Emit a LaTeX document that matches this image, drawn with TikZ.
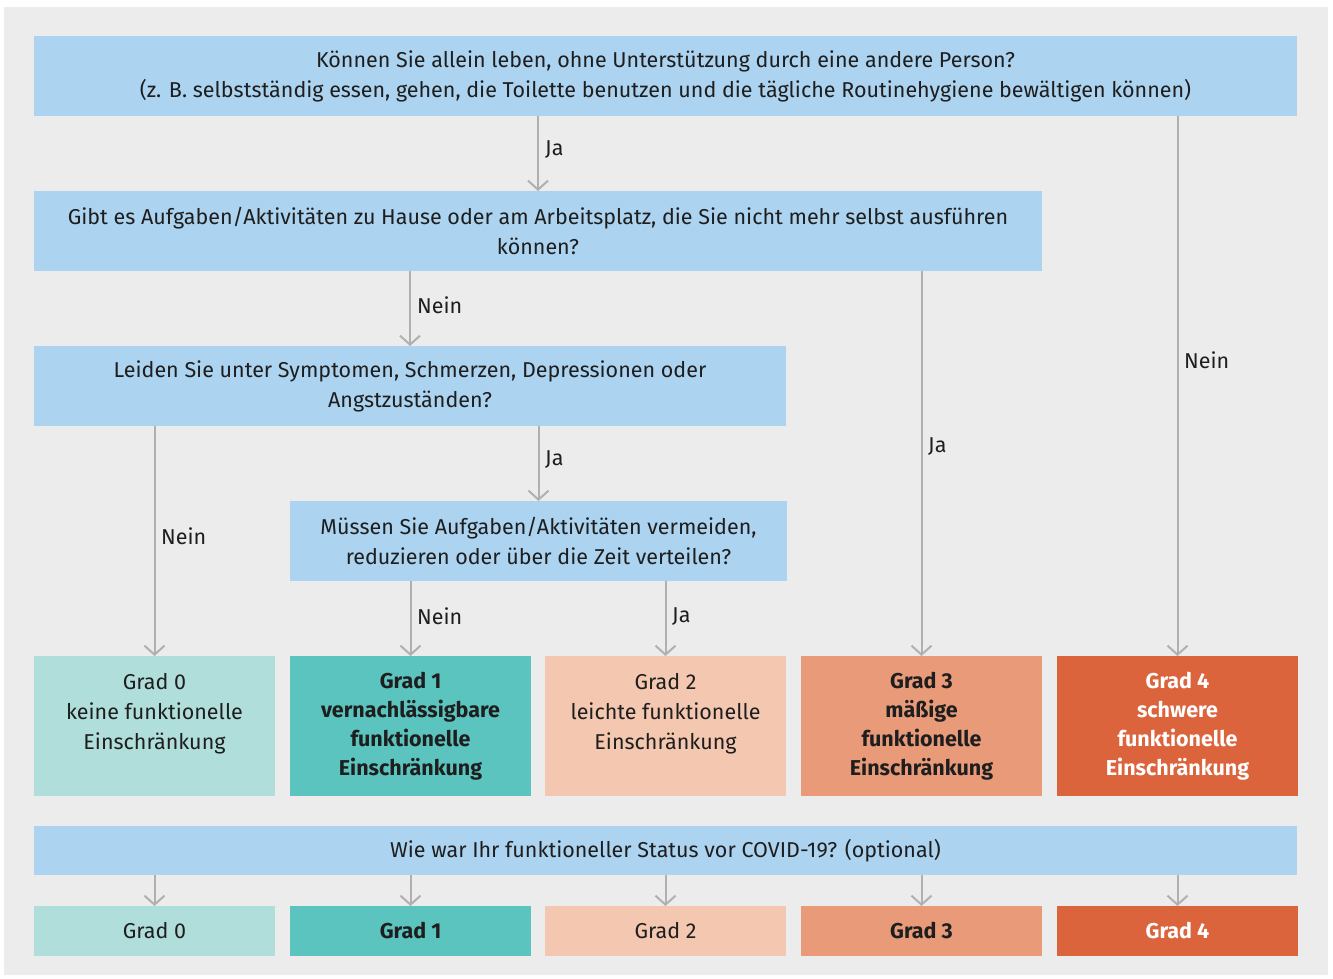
\documentclass[tikz,border=0pt]{standalone}
\usepackage{fontspec}
\setmainfont{Fira Sans}
\usetikzlibrary{arrows.meta,calc}
\definecolor{bgc}{HTML}{EBECEB}
\definecolor{qblue}{HTML}{ACD3EF}
\definecolor{gz}{HTML}{B0DEDB}
\definecolor{go}{HTML}{5BC4BF}
\definecolor{gt}{HTML}{F3C7B0}
\definecolor{gh}{HTML}{E89A79}
\definecolor{gf}{HTML}{DC643C}
\definecolor{txt}{HTML}{1E1E1E}
\definecolor{arrc}{HTML}{B0B0B0}
\tikzset{
  base/.style={inner sep=0pt, outer sep=0pt, anchor=north west, align=center, text=txt,
    font=\fontsize{21.5}{30}\selectfont},
  qbox/.style={base, fill=qblue, minimum height=80pt},
  gbox/.style={base, minimum width=241pt, minimum height=140pt},
  boldg/.style={font=\fontsize{21.5}{29}\selectfont\bfseries},
  sbox/.style={base, minimum width=241pt, minimum height=50pt},
  arr/.style={draw=arrc, line width=2pt, -{Straight Barb[length=9pt,width=20pt,line width=2pt]}},
  lbl/.style={anchor=west, inner sep=0pt, text=txt, font=\fontsize{21.5}{30}\selectfont},
}
\begin{document}
\begin{tikzpicture}[x=1pt,y=-1pt]
\useasboundingbox (0,0) rectangle (1333,979);
\fill[bgc] (4,7) rectangle (1328,975);
% questions
\node[qbox, minimum width=1263pt] (q1) at (34,36) {Können Sie allein leben, ohne Unterstützung durch eine andere Person?\\(z. B. selbstständig essen, gehen, die Toilette benutzen und die tägliche Routinehygiene bewältigen können)};
\node[qbox, minimum width=1008pt] (q2) at (34,191) {Gibt es Aufgaben/Aktivitäten zu Hause oder am Arbeitsplatz, die Sie nicht mehr selbst ausführen\\können?};
\node[qbox, minimum width=752pt] (q3) at (34,346) {Leiden Sie unter Symptomen, Schmerzen, Depressionen oder\\Angstzuständen?};
\node[qbox, minimum width=497pt] (q4) at (290,501) {Müssen Sie Aufgaben/Aktivitäten vermeiden,\\reduzieren oder über die Zeit verteilen?};
% grades
\node[gbox, fill=gz] (g0) at (34,656) {Grad 0\\keine funktionelle\\Einschränkung\\\phantom{X}};
\node[gbox, fill=go, boldg] (g1) at (290,656) {Grad 1\\vernachlässigbare\\funktionelle\\Einschränkung};
\node[gbox, fill=gt] (g2) at (545,656) {Grad 2\\leichte funktionelle\\Einschränkung\\\phantom{X}};
\node[gbox, fill=gh, boldg] (g3) at (801,656) {Grad 3\\mäßige\\funktionelle\\Einschränkung};
\node[gbox, fill=gf, text=white, boldg] (g4) at (1057,656) {Grad 4\\schwere\\funktionelle\\Einschränkung};
% covid
\node[qbox, minimum width=1263pt, minimum height=49pt] (c) at (34,826) {Wie war Ihr funktioneller Status vor COVID-19? (optional)};
\node[sbox, fill=gz] (s0) at (34,906) {Grad 0};
\node[sbox, fill=go, boldg] (s1) at (290,906) {Grad 1};
\node[sbox, fill=gt] (s2) at (545,906) {Grad 2};
\node[sbox, fill=gh, boldg] (s3) at (801,906) {Grad 3};
\node[sbox, fill=gf, text=white, boldg] (s4) at (1057,906) {Grad 4};
% arrows
\draw[arr] (q1.south -| q2.north) -- (q2.north);
\draw[arr] (q1.south -| g4.north) -- (g4.north);
\draw[arr] (q2.south -| q3.north) -- (q3.north);
\draw[arr] (q2.south -| g3.north) -- (g3.north);
\draw[arr] (q3.south -| g0.north) -- (g0.north);
\draw[arr] (q3.south -| q4.north) -- (q4.north);
\draw[arr] (q4.south -| g1.north) -- (g1.north);
\draw[arr] (q4.south -| g2.north) -- (g2.north);
\foreach \s in {s0,s1,s2,s3,s4} \draw[arr] (c.south -| \s.north) -- (\s.north);
% labels
\node[lbl] (l1) at (545,150) {Ja};
\node[lbl] (l2) at (417,305) {Nein};
\node[lbl] (l3) at (1184,360) {Nein};
\node[lbl] (l4) at (928,447) {Ja};
\node[lbl] (l5) at (161,536) {Nein};
\node[lbl] (l6) at (545,460) {Ja};
\node[lbl] (l7) at (417,616) {Nein};
\node[lbl] (l8) at (672,617) {Ja};
\end{tikzpicture}
\end{document}
